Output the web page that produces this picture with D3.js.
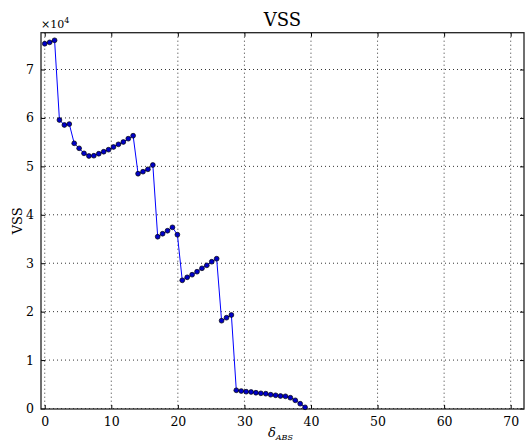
<!DOCTYPE html>
<html>
<head>
<meta charset="utf-8">
<script src="https://cdn.jsdelivr.net/npm/d3@7"></script>
<style>
  body { margin: 0; background: #fff; }
  text { font-family: "DejaVu Serif", "Liberation Serif", serif; fill: #000; }
</style>
</head>
<body>
<div id="chart"></div>
<script>
// delta_ABS values of each point
const deltas = [0, 0.74, 1.48, 2.21, 2.95, 3.69, 4.43, 5.17, 5.9, 6.64,
  7.38, 8.12, 8.86, 9.59, 10.33, 11.07, 11.81, 12.55, 13.28, 14.02,
  14.76, 15.5, 16.24, 16.97, 17.71, 18.45, 19.19, 19.93, 20.66, 21.4,
  22.14, 22.88, 23.62, 24.35, 25.09, 25.83, 26.57, 27.31, 28.04, 28.78,
  29.52, 30.26, 31.0, 31.73, 32.47, 33.21, 33.95, 34.69, 35.42, 36.16,
  36.9, 37.64, 38.38, 39.11];

const vss = [75320, 75610, 76030, 59570, 58540, 58740, 54760, 53730, 52690, 52140,
  52200, 52610, 53020, 53440, 54000, 54550, 55030, 55710, 56330, 48480,
  48900, 49390, 50280, 35470, 36090, 36710, 37410, 35890, 26470, 27090,
  27630, 28250, 28950, 29570, 30310, 30930, 18130, 18750, 19310, 3760,
  3610, 3470, 3410, 3260, 3140, 3060, 2850, 2730, 2580, 2520,
  2230, 1690, 990, 250];

const xTicks = [0, 10, 20, 30, 40, 50, 60, 70];
const yTicks = [0, 10000, 20000, 30000, 40000, 50000, 60000, 70000];

const W = 527, H = 445;
const margin = { top: 32.7, right: 3, bottom: 36, left: 41 };
const width = W - margin.left - margin.right;
const height = H - margin.top - margin.bottom;

const svg = d3.select("#chart").append("svg")
    .attr("width", W)
    .attr("height", H);

const g = svg.append("g")
    .attr("transform", `translate(${margin.left},${margin.top})`);

const x = d3.scaleLinear().domain([-0.56, 72.0]).range([0, width]);
const y = d3.scaleLinear().domain([-100, 77600]).range([height, 0]);

// grid
g.append("g").selectAll("line").data(xTicks).join("line")
    .attr("x1", d => x(d)).attr("x2", d => x(d))
    .attr("y1", 0).attr("y2", height)
    .attr("stroke", "#000").attr("stroke-width", 0.8)
    .attr("stroke-dasharray", "1,3");

g.append("g").selectAll("line").data(yTicks).join("line")
    .attr("x1", 0).attr("x2", width)
    .attr("y1", d => y(d)).attr("y2", d => y(d))
    .attr("stroke", "#000").attr("stroke-width", 0.8)
    .attr("stroke-dasharray", "1,3");

// axes (inward ticks, matplotlib classic)
const xb = g.append("g").attr("transform", `translate(0,${height})`)
    .call(d3.axisBottom(x).tickValues(xTicks).tickSize(-4).tickPadding(8).tickFormat(d3.format("d")));
const xt = g.append("g")
    .call(d3.axisTop(x).tickValues(xTicks).tickSize(-4).tickFormat(""));
const yl = g.append("g")
    .call(d3.axisLeft(y).tickValues(yTicks).tickSize(-4).tickPadding(7).tickFormat(d => d / 10000));
const yr = g.append("g").attr("transform", `translate(${width},0)`)
    .call(d3.axisRight(y).tickValues(yTicks).tickSize(-4).tickFormat(""));

[xb, xt, yl, yr].forEach(a => {
    a.select(".domain").remove();
    a.selectAll("line").attr("stroke", "#000");
    a.selectAll("text").style("font-size", "12.5px").style("font-family", "DejaVu Serif, serif");
});

// frame
g.append("rect")
    .attr("width", width).attr("height", height)
    .attr("fill", "none").attr("stroke", "#222").attr("stroke-width", 1.3);

// line + markers
const pts = deltas.map((d, i) => [d, vss[i]]);

g.append("path")
    .datum(pts)
    .attr("fill", "none")
    .attr("stroke", "#0000ff")
    .attr("stroke-width", 1)
    .attr("d", d3.line().x(d => x(d[0])).y(d => y(d[1])));

g.append("g").selectAll("circle").data(pts).join("circle")
    .attr("cx", d => x(d[0]))
    .attr("cy", d => y(d[1]))
    .attr("r", 2.4)
    .attr("fill", "#0000c8")
    .attr("stroke", "#000")
    .attr("stroke-width", 0.7);

// title
svg.append("text")
    .attr("x", margin.left + width / 2)
    .attr("y", 26)
    .attr("text-anchor", "middle")
    .style("font-size", "18px")
    .text("VSS");

// offset text
const off = svg.append("text")
    .attr("x", margin.left)
    .attr("y", 28)
    .style("font-size", "11px");
off.append("tspan").text("×10");
off.append("tspan").attr("dy", -5).style("font-size", "8px").text("4");

// y label
svg.append("text")
    .attr("transform", `translate(22,${margin.top + height / 2}) rotate(-90)`)
    .attr("text-anchor", "middle")
    .style("font-size", "13px")
    .text("VSS");

// x label
const xl = svg.append("text")
    .attr("x", margin.left + width / 2 - 2)
    .attr("y", 437)
    .attr("text-anchor", "middle");
xl.append("tspan").style("font-style", "italic").style("font-size", "13px").text("δ");
xl.append("tspan").attr("dy", 3).style("font-style", "italic").style("font-size", "8px").text("ABS");
</script>
</body>
</html>
